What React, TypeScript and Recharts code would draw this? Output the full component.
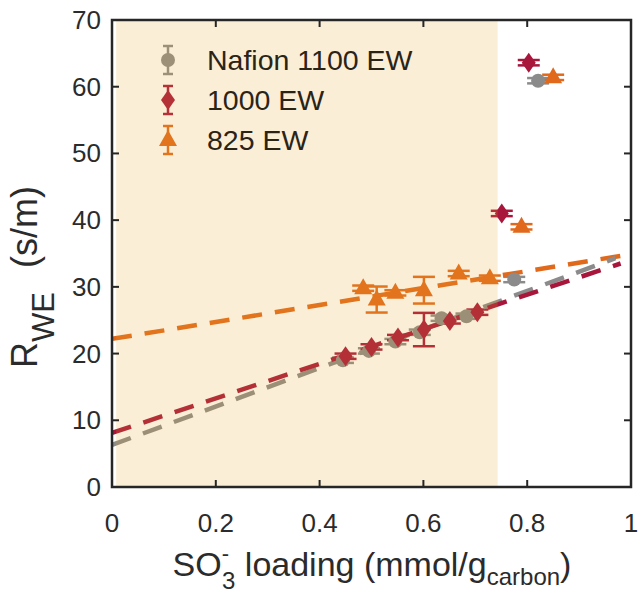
import React from "react";
import {
  ScatterChart,
  Scatter,
  XAxis,
  YAxis,
  ErrorBar,
  ReferenceArea,
} from "recharts";

const X_TICKS = [0, 0.2, 0.4, 0.6, 0.8, 1];
const Y_TICKS = [0, 10, 20, 30, 40, 50, 60, 70];
const X_MAX = 1;
const Y_MAX = 70;

// Nafion 1100 EW
const nafionX = [0.445, 0.495, 0.546, 0.593, 0.635, 0.683, 0.775, 0.821];
const nafionY = [19.0, 20.4, 21.8, 23.2, 25.3, 25.6, 31.1, 60.9];
const nafionErr = [0.4, 0.4, 0.4, 0.4, 0.4, 0.4, 0.4, 0.4];

// 1000 EW
const ew1000X = [0.45, 0.5, 0.551, 0.601, 0.651, 0.704, 0.751, 0.803];
const ew1000Y = [19.6, 21.0, 22.4, 23.6, 24.9, 26.2, 41.0, 63.6];
const ew1000Err = [0.4, 0.4, 0.4, 2.5, 0.4, 0.4, 0.4, 0.4];

// 825 EW
const ew825X = [0.484, 0.51, 0.546, 0.601, 0.668, 0.728, 0.789, 0.85];
const ew825Y = [29.8, 28.1, 29.1, 29.5, 32.0, 31.3, 39.0, 61.4];
const ew825Err = [0.4, 1.95, 0.4, 2.0, 0.4, 0.4, 0.4, 0.4];

// linear fits (end points)
const fitNafionX = [0, 0.97];
const fitNafionY = [6.3, 34.3];
const fit1000X = [0, 0.98];
const fit1000Y = [8.1, 33.5];
const fit825X = [0, 1];
const fit825Y = [22.2, 34.9];

const SHADE_FROM = 0.008;
const SHADE_TO = 0.743;

const GREY = "#8b8b8b";
const CRIMSON = "#a8163c";
const ORANGE = "#e0691c";

// shade is a translucent wash laid over the marks
const WASH = [233, 165, 39];
const WASH_ALPHA = 0.19;
const tint = (hex: string) => {
  const v = [1, 3, 5].map((i) => parseInt(hex.slice(i, i + 2), 16));
  const out = v.map((c, k) => Math.round(c * (1 - WASH_ALPHA) + WASH[k] * WASH_ALPHA));
  return `rgb(${out.join(",")})`;
};

const FONT = "'Liberation Sans', Arial, Helvetica, sans-serif";
const INK = "#262626";
const DASH = "20 13";

const W = 639;
const H = 597;
const M = { top: 20, right: 8, bottom: 0, left: 0 };
const Y_AXIS_W = 112;
const X_AXIS_H = 110;
const PLOT_X = M.left + Y_AXIS_W;
const PLOT_Y = M.top;
const PLOT_W = W - M.right - PLOT_X;
const PLOT_H = H - PLOT_Y - X_AXIS_H;
const TICK_LEN = 7;

// same linear mapping as the chart axes, for the box ticks
const px = (v: number) => PLOT_X + (v / X_MAX) * PLOT_W;
const py = (v: number) => PLOT_Y + PLOT_H - (v / Y_MAX) * PLOT_H;

const zip = (xs: number[], ys: number[], es?: number[]) =>
  xs.map((x, i) => ({ x, y: ys[i], err: es ? es[i] : 0 }));

const nafion = zip(nafionX, nafionY, nafionErr);
const ew1000 = zip(ew1000X, ew1000Y, ew1000Err);
const ew825 = zip(ew825X, ew825Y, ew825Err);

const Circle = (color: string) => (p: any) =>
  <circle cx={p.cx} cy={p.cy} r={7} fill={color} />;

const Diamond = (color: string) => (p: any) => (
  <polygon
    points={`${p.cx},${p.cy - 10} ${p.cx + 7},${p.cy} ${p.cx},${p.cy + 10} ${p.cx - 7},${p.cy}`}
    fill={color}
  />
);

const Triangle = (color: string) => (p: any) => (
  <polygon
    points={`${p.cx},${p.cy - 10} ${p.cx + 9},${p.cy + 6} ${p.cx - 9},${p.cy + 6}`}
    fill={color}
  />
);

const NoDot = () => <g />;

const fmt = (v: number) => (v === 0 || v === 1 ? String(v) : v.toFixed(1));

const BottomTick = ({ x, y, payload }: any) => (
  <text x={x} y={y + 45} textAnchor="middle" fontSize={26} fill="#2b2b2b" fontFamily={FONT}>
    {fmt(payload.value)}
  </text>
);

const LeftTick = ({ x, y, payload }: any) => (
  <text x={x - 11} y={y + 9} textAnchor="end" fontSize={26} fill="#2b2b2b" fontFamily={FONT}>
    {payload.value}
  </text>
);

const LEGEND = [
  { name: "Nafion 1100 EW", color: GREY, mark: "circle" },
  { name: "1000 EW", color: CRIMSON, mark: "diamond" },
  { name: "825 EW", color: ORANGE, mark: "triangle" },
];

const LegendMark = ({ mark, color, cx, cy }: any) => {
  if (mark === "circle") return Circle(color)({ cx, cy });
  if (mark === "diamond") return Diamond(color)({ cx, cy });
  return Triangle(color)({ cx, cy });
};

const App = () => {
  return (
    <div style={{ position: "absolute", left: 0, top: 0, width: W, height: H }}>
      <ScatterChart width={W} height={H} margin={M}>
        <XAxis
          type="number"
          dataKey="x"
          domain={[0, X_MAX]}
          ticks={X_TICKS}
          height={X_AXIS_H}
          axisLine={false}
          tickLine={false}
          tickSize={0}
          tickMargin={0}
          tick={<BottomTick />}
          allowDataOverflow
        />
        <YAxis
          type="number"
          dataKey="y"
          domain={[0, Y_MAX]}
          ticks={Y_TICKS}
          width={Y_AXIS_W}
          axisLine={false}
          tickLine={false}
          tickSize={0}
          tickMargin={0}
          tick={<LeftTick />}
          allowDataOverflow
        />

        <Scatter
          data={zip(fit825X, fit825Y)}
          shape={NoDot}
          line={{ stroke: ORANGE, strokeWidth: 4.5, strokeDasharray: DASH }}
          isAnimationActive={false}
        />
        <Scatter
          data={zip(fitNafionX, fitNafionY)}
          shape={NoDot}
          line={{ stroke: GREY, strokeWidth: 4.5, strokeDasharray: DASH }}
          isAnimationActive={false}
        />
        <Scatter
          data={zip(fit1000X, fit1000Y)}
          shape={NoDot}
          line={{ stroke: CRIMSON, strokeWidth: 4.5, strokeDasharray: DASH }}
          isAnimationActive={false}
        />

        <Scatter data={nafion} shape={Circle(GREY)} isAnimationActive={false}>
          <ErrorBar dataKey="err" direction="y" width={11} stroke={GREY} strokeWidth={2.5} />
        </Scatter>
        <Scatter data={ew825} shape={Triangle(ORANGE)} isAnimationActive={false}>
          <ErrorBar dataKey="err" direction="y" width={11} stroke={ORANGE} strokeWidth={2.5} />
        </Scatter>
        <Scatter data={ew1000} shape={Diamond(CRIMSON)} isAnimationActive={false}>
          <ErrorBar dataKey="err" direction="y" width={11} stroke={CRIMSON} strokeWidth={2.5} />
        </Scatter>

        <ReferenceArea
          x1={SHADE_FROM}
          x2={SHADE_TO}
          y1={0}
          y2={Y_MAX}
          fill={`rgb(${WASH.join(",")})`}
          fillOpacity={WASH_ALPHA}
          stroke="none"
          zIndex={2000}
        />
      </ScatterChart>

      <svg
        width={W}
        height={H}
        style={{ position: "absolute", left: 0, top: 0, pointerEvents: "none" }}
        fontFamily={FONT}
      >
        {/* box with inward ticks on all four sides */}
        <g stroke={INK} strokeWidth={2}>
          {X_TICKS.map((t) => (
            <g key={`x${t}`}>
              <line x1={px(t)} x2={px(t)} y1={py(0)} y2={py(0) - TICK_LEN} />
              <line x1={px(t)} x2={px(t)} y1={py(Y_MAX)} y2={py(Y_MAX) + TICK_LEN} />
            </g>
          ))}
          {Y_TICKS.map((t) => (
            <g key={`y${t}`}>
              <line x1={px(0)} x2={px(0) + TICK_LEN} y1={py(t)} y2={py(t)} />
              <line x1={px(X_MAX)} x2={px(X_MAX) - TICK_LEN} y1={py(t)} y2={py(t)} />
            </g>
          ))}
        </g>
        <rect x={PLOT_X} y={PLOT_Y} width={PLOT_W} height={PLOT_H} fill="none" stroke={INK} strokeWidth={2.5} />

        {LEGEND.map((item, i) => {
          const cy = 60 + i * 40;
          const c = tint(item.color);
          return (
            <g key={item.name}>
              <line x1={168} x2={168} y1={cy - 14} y2={cy + 14} stroke={c} strokeWidth={2.5} />
              <line x1={163} x2={173} y1={cy - 14} y2={cy - 14} stroke={c} strokeWidth={2.5} />
              <line x1={163} x2={173} y1={cy + 14} y2={cy + 14} stroke={c} strokeWidth={2.5} />
              <LegendMark mark={item.mark} color={c} cx={168} cy={cy} />
              <text x={207} y={cy + 10} fontSize={28.5} fill="#2b2416">
                {item.name}
              </text>
            </g>
          );
        })}

        <text x={372} y={576} textAnchor="middle" fontSize={34} fill="#2b2b2b">
          SO
          <tspan fontSize={22} dy={-15}>-</tspan>
          <tspan fontSize={24} dx={-7} dy={28}>3</tspan>
          <tspan fontSize={34} dy={-13}> loading (mmol/g</tspan>
          <tspan fontSize={24} dy={9}>carbon</tspan>
          <tspan fontSize={34} dy={-9}>)</tspan>
        </text>

        <text transform="translate(37,277) rotate(-90)" textAnchor="middle" fontSize={36} fill="#2b2b2b">
          R
          <tspan fontSize={31} dy={17}>WE</tspan>
          <tspan fontSize={36} dx={24} dy={-17}>(s/m)</tspan>
        </text>
      </svg>
    </div>
  );
};

export default App;
